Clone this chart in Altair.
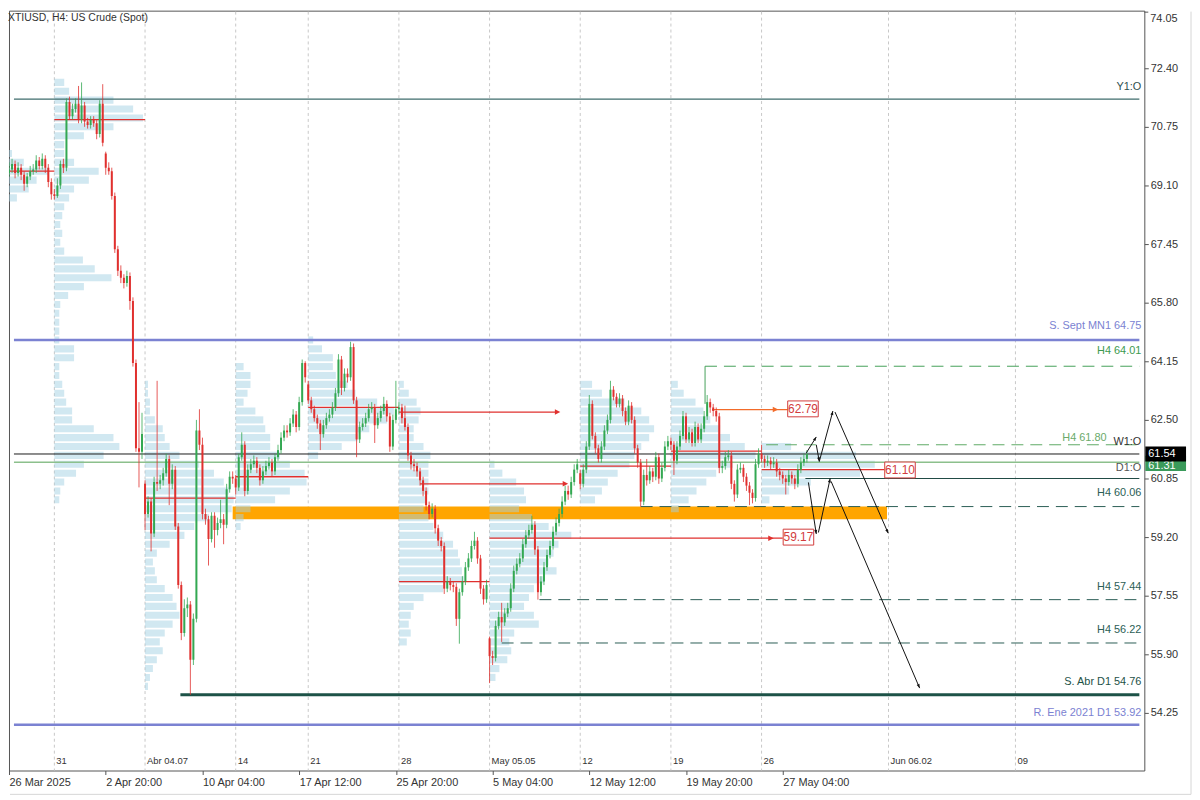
import math
import altair as alt
import pandas as pd

# ---------------------------------------------------------------- data
TITLE = "XTIUSD, H4:  US Crude (Spot)"

closes = [
    69.55, 69.70, 69.45, 69.60, 69.40, 69.15, 69.35, 69.50, 69.55, 69.80,
    69.65, 69.85, 69.60, 69.20, 68.85, 68.80, 69.10, 69.70, 69.60, 71.45,
    71.05, 71.25, 71.40, 70.95, 71.35, 70.90, 70.80, 70.95, 70.85, 70.55,
    71.40, 70.30, 69.60, 69.50, 68.80, 67.30, 66.70, 66.50, 66.35, 66.55,
    65.85, 64.10, 61.70, 61.60, 62.10, 59.85, 60.20, 59.30, 60.75, 60.70,
    60.80, 61.00, 61.40, 60.70, 61.10, 59.50, 57.85, 56.50, 57.20, 57.30,
    55.75, 56.90, 62.20, 61.80, 59.85, 59.70, 59.15, 59.80, 59.40, 59.60,
    59.70, 59.55, 60.55, 60.90, 60.85, 60.60, 61.45, 61.80, 60.50, 61.10,
    61.25, 61.35, 61.15, 60.80, 61.05, 61.20, 61.30, 61.05, 61.45, 61.65,
    62.00, 62.20, 62.15, 62.40, 62.65, 62.30, 63.00, 64.10, 63.70, 63.05,
    62.80, 62.55, 62.40, 62.10, 62.35, 62.55, 62.65, 62.85, 63.25, 64.20,
    63.40, 63.80, 63.70, 64.55, 63.05, 61.95, 62.30, 62.40, 62.55, 62.80,
    62.85, 62.35, 62.55, 62.75, 62.95, 62.60, 61.75, 62.50, 62.80, 62.85,
    62.55, 62.30, 61.50, 61.25, 61.20, 61.05, 60.80, 60.50, 60.10, 59.85,
    60.00, 59.45, 59.10, 58.95, 57.75, 57.95, 57.85, 57.80, 56.90, 57.65,
    57.95, 58.35, 58.60, 58.95, 59.10, 58.60, 57.75, 57.45, 57.85, 55.85,
    55.80, 56.70, 56.95, 56.80, 57.05, 57.20, 57.75, 58.25, 58.45, 58.60,
    59.00, 59.25, 59.40, 59.55, 58.85, 57.65, 57.95, 58.35, 58.70, 58.95,
    59.35, 59.60, 59.85, 60.20, 60.50, 60.40, 60.75, 61.10, 61.25, 60.70,
    61.10, 61.75, 62.95, 62.05, 61.70, 61.40, 61.75, 62.20, 62.50, 63.35,
    63.15, 62.95, 63.10, 62.75, 62.45, 62.90, 62.50, 61.70, 61.30, 60.20,
    60.95, 60.80, 61.05, 60.90, 61.45, 60.85, 61.15, 61.75, 61.90, 61.80,
    61.35, 61.75, 62.05, 62.60, 61.95, 62.15, 61.85, 62.30, 61.95, 62.25,
    62.60, 63.00, 62.85, 62.75, 62.60, 61.15, 61.20, 61.45, 61.50, 60.70,
    60.40, 61.10, 61.15, 60.90, 60.65, 60.45, 60.30, 61.25, 61.55, 61.40,
    61.30, 61.35, 61.25, 61.30, 61.05, 60.95, 60.85, 60.75, 60.95, 60.85,
    60.70, 61.10, 61.30, 61.40, 61.54,
]
highs = [
    69.75, 69.85, 69.80, 69.75, 69.70, 69.50, 69.45, 69.65, 69.70, 69.95,
    69.90, 70.00, 69.95, 69.70, 69.30, 69.00, 69.30, 69.80, 69.85, 71.55,
    71.60, 71.40, 71.55, 71.90, 72.00, 71.45, 71.00, 71.05, 71.05, 70.95,
    71.50, 71.95, 70.05, 69.75, 69.60, 68.90, 67.40, 66.85, 66.60, 66.70,
    66.65, 65.95, 64.20, 63.00, 62.70, 60.80, 60.35, 60.30, 60.90, 63.60,
    60.95, 61.15, 61.55, 61.50, 61.25, 61.20, 59.60, 57.95, 57.45, 57.50,
    57.40, 57.05, 62.50, 62.80, 62.00, 60.00, 59.80, 59.90, 59.90, 59.75,
    60.25, 59.85, 60.70, 61.05, 61.05, 60.95, 61.55, 62.15, 61.90, 61.25,
    61.40, 61.50, 61.45, 61.25, 61.20, 61.35, 61.45, 61.40, 61.55, 61.80,
    62.15, 62.35, 62.35, 62.55, 62.80, 62.75, 63.15, 64.20, 64.15, 63.60,
    63.15, 62.90, 62.65, 62.50, 62.50, 62.70, 62.80, 63.00, 63.40, 64.35,
    64.30, 63.95, 63.95, 64.70, 64.65, 63.15, 62.45, 62.55, 62.70, 62.95,
    63.00, 62.95, 62.70, 62.90, 63.15, 63.05, 62.70, 62.65, 63.60, 63.00,
    62.95, 62.90, 62.40, 61.60, 61.40, 61.30, 61.15, 60.90, 60.60, 60.20,
    60.15, 60.10, 59.55, 59.20, 59.05, 58.10, 58.05, 57.95, 57.90, 57.75,
    58.10, 58.50, 58.75, 59.10, 59.35, 59.20, 58.70, 57.85, 58.00, 56.40,
    56.00, 56.85, 57.10, 57.35, 57.20, 57.35, 57.90, 58.40, 58.60, 58.75,
    59.15, 59.40, 59.55, 59.80, 59.65, 58.95, 58.10, 58.50, 58.85, 59.10,
    59.50, 59.75, 60.00, 60.35, 60.65, 60.65, 60.90, 61.25, 61.40, 61.10,
    61.25, 61.90, 63.20, 63.05, 62.15, 61.80, 61.90, 62.35, 62.65, 63.60,
    63.45, 63.25, 63.25, 63.20, 62.85, 63.05, 63.00, 62.60, 61.80, 61.40,
    61.10, 61.40, 61.20, 61.15, 61.60, 61.55, 61.30, 61.90, 62.05, 62.00,
    61.90, 61.90, 62.20, 62.75, 62.70, 62.30, 62.25, 62.45, 62.40, 62.40,
    62.75, 63.20, 63.10, 62.95, 62.85, 62.70, 61.35, 61.60, 61.65, 61.60,
    60.80, 61.25, 61.30, 61.25, 61.00, 60.75, 60.55, 61.40, 61.70, 61.80,
    61.50, 61.50, 61.45, 61.45, 61.40, 61.15, 61.05, 60.95, 61.10, 61.05,
    60.95, 61.25, 61.45, 61.55, 61.65,
]
lows = [
    69.35, 69.45, 69.30, 69.35, 69.25, 68.95, 69.05, 69.25, 69.40, 69.45,
    69.55, 69.55, 69.45, 69.05, 68.70, 68.70, 68.75, 69.00, 69.45, 69.50,
    70.95, 70.95, 71.15, 70.85, 70.85, 70.75, 70.70, 70.70, 70.75, 70.40,
    70.45, 70.20, 69.40, 69.40, 68.70, 67.20, 66.55, 66.35, 66.20, 66.25,
    65.60, 64.00, 61.60, 60.60, 61.40, 59.40, 59.75, 58.80, 59.20, 60.50,
    60.55, 60.65, 60.90, 60.10, 60.55, 59.40, 57.75, 56.30, 56.40, 56.95,
    54.76, 55.60, 56.80, 61.65, 59.70, 59.55, 58.40, 59.05, 58.90, 59.25,
    59.45, 59.00, 59.45, 60.45, 60.70, 60.40, 60.50, 61.35, 60.35, 60.40,
    61.00, 61.15, 61.00, 60.65, 60.70, 60.95, 61.10, 60.90, 60.95, 61.35,
    61.55, 61.90, 62.00, 62.05, 62.30, 62.15, 62.20, 62.90, 63.55, 62.95,
    62.70, 62.45, 62.25, 61.65, 62.00, 62.25, 62.45, 62.55, 62.75, 63.15,
    63.20, 63.30, 63.55, 63.60, 62.95, 61.45, 61.85, 62.20, 62.30, 62.45,
    62.70, 61.85, 62.25, 62.45, 62.65, 62.45, 61.60, 61.65, 62.40, 62.65,
    62.40, 62.20, 61.35, 61.10, 61.05, 60.90, 60.65, 60.35, 59.95, 59.70,
    59.75, 59.30, 58.95, 58.80, 57.60, 57.65, 57.70, 57.65, 56.70, 56.20,
    57.55, 57.85, 58.25, 58.50, 58.85, 58.45, 57.60, 57.30, 57.35, 55.09,
    55.60, 55.70, 56.60, 56.25, 56.70, 56.95, 57.10, 57.65, 58.15, 58.35,
    58.50, 58.90, 59.15, 59.30, 58.70, 57.44, 57.55, 57.85, 58.25, 58.60,
    58.85, 59.25, 59.50, 59.75, 60.10, 60.25, 60.30, 60.65, 61.00, 60.55,
    60.60, 61.00, 61.65, 61.95, 61.55, 61.30, 61.30, 61.65, 62.10, 62.40,
    63.05, 62.85, 62.85, 62.60, 62.35, 62.35, 62.40, 61.55, 61.15, 60.06,
    60.10, 60.65, 60.70, 60.75, 60.80, 60.70, 60.75, 61.05, 61.65, 61.65,
    60.95, 61.25, 61.65, 61.95, 61.85, 61.85, 61.75, 61.75, 61.85, 61.85,
    62.15, 62.50, 62.70, 62.60, 62.45, 61.00, 61.00, 61.10, 61.35, 60.55,
    60.20, 60.30, 61.00, 60.75, 60.50, 60.10, 60.15, 60.20, 61.15, 61.30,
    61.15, 61.20, 61.10, 61.15, 60.90, 60.80, 60.70, 60.40, 60.65, 60.70,
    60.55, 60.60, 61.00, 61.20, 61.30,
]
# bars that open away from the previous close (weekend / news gaps)
gap_opens = {0: 69.45, 32: 70.00, 45: 60.70, 99: 63.50, 159: 56.35, 189: 61.00}

week_idx = [15, 45, 75, 99, 129, 159, 189, 219, 249, 291, 333]
week_labels = ["31", "Abr 04.07", "14", "21", "28", "May 05.05", "12", "19", "26",
               "Jun 06.02", "09"]

time_idx = [0, 32, 64, 96, 128, 160, 192, 224, 256]
time_labels = ["26 Mar 2025", "2 Apr 20:00", "10 Apr 04:00", "17 Apr 12:00",
               "25 Apr 20:00", "5 May 04:00", "12 May 12:00", "19 May 20:00",
               "27 May 04:00"]

price_ticks = [74.05, 72.40, 70.75, 69.10, 67.45, 65.80, 64.15, 62.50, 60.85,
               59.20, 57.55, 55.90, 54.25]

# weekly volume profiles: start bar, top price, volume per 0.25 level (descending)
PROFILE_STEP = 0.25
prof_start = [0, 15, 45, 75, 99, 129, 159, 189, 219, 249]
prof_top = [70.00, 72.00, 63.50, 64.00, 64.75, 63.50, 61.25, 63.50, 63.50, 61.75]
prof_vol = [
    [3, 15, 40, 28, 20, 8],
    [10, 15, 60, 80, 90, 60, 30, 10, 10, 20, 45, 35, 20, 15, 10, 8, 6, 8, 6, 10,
     29, 41, 58, 30, 14, 6, 5, 5, 5, 5, 20, 20, 5, 5, 8, 10, 12, 18, 18, 40,
     60, 66, 50, 30, 22, 10, 6, 5],
    [3, 3, 5, 5, 10, 18, 20, 25, 35, 55, 70, 80, 85, 90, 88, 65, 50, 40, 25, 12,
     8, 10, 12, 20, 28, 32, 35, 28, 20, 15, 18, 12, 8, 5, 3],
    [8, 15, 15, 12, 8, 20, 28, 30, 35, 35, 45, 55, 70, 72, 55, 40, 15, 8, 5],
    [5, 14, 25, 25, 28, 40, 48, 70, 87, 80, 62, 50, 34, 10],
    [5, 10, 18, 22, 20, 15, 15, 25, 32, 30, 30, 30, 30, 28, 25, 30, 35, 45, 55, 60,
     62, 64, 66, 45, 25, 15, 12, 10, 12, 8],
    [5, 13, 27, 35, 37, 30, 43, 60, 83, 70, 65, 60, 68, 55, 45, 40, 35, 45, 50, 25,
     20, 22, 18, 10, 6],
    [12, 22, 45, 62, 70, 75, 70, 62, 55, 50, 38, 28, 22, 15],
    [7, 13, 25, 33, 40, 50, 60, 75, 86, 63, 46, 36, 26, 18, 8],
    [30, 96, 115, 100, 50, 28, 8],
]

# horizontal levels
solid_price = [71.53, 64.75, 61.54, 61.31, 60.85, 54.76, 53.92]
solid_from = [None, None, None, None, 263.5, 56.7, None]
dashed_price = [64.01, 61.80, 60.06, 57.44, 56.22]
dashed_from = [230.3, 250.5, 209.0, 175.5, 163.0]

level_text = ["Y1:O", "S. Sept MN1 64.75", "H4 64.01", "H4 61.80", "W1:O", "D1:O",
              "H4 60.06", "H4 57.44", "H4 56.22", "S. Abr D1 54.76",
              "R. Ene 2021 D1 53.92"]
level_text_price = [71.53, 64.75, 64.01, 61.80, 61.54, 61.31, 60.06, 57.44, 56.22,
                    54.76, 53.92]

# orange zone
zone_from, zone_to, zone_top, zone_bot = 74.0, 290.5, 60.06, 59.70
# connector of the H4 64.01 level
conn_i, conn_top, conn_bot = 230.3, 64.01, 62.95

# point-of-control lines and their extensions
seg_from = [0, 15, 45, 75, 99, 129, 136, 129, 159, 189, 219, 249, 232.6]
seg_to = [15, 45, 75, 99, 129, 181.5, 184.0, 159, 256.0, 219, 249, 289.6, 257.7]
seg_price = [69.50, 70.95, 60.30, 60.90, 62.85, 62.72, 60.70, 57.95, 59.17, 61.20,
             61.62, 61.10, 62.79]
seg_orange = [False] * 12 + [True]
head_i = [182.4, 185.0, 253.0, 254.5]
head_p = [62.72, 60.70, 59.17, 62.79]
head_orange = [False, False, False, True]

box_text = ["62.79", "61.10", "59.17"]
box_i = [262.7, 294.8, 261.2]
box_p = [62.81, 61.09, 59.20]

# projected path (arrows)
zz_x0 = [263.8, 267.1, 268.1, 273.3, 264.5, 267.8, 272.0]
zz_y0 = [61.57, 61.80, 61.33, 62.72, 60.74, 59.33, 60.77]
zz_x1 = [267.1, 268.1, 272.6, 290.9, 267.1, 271.7, 301.3]
zz_y1 = [62.02, 61.33, 62.75, 59.31, 59.29, 60.85, 54.95]

tag_text = ["61.31", "61.54"]
tag_price = [61.31, 61.54]

# ---------------------------------------------------------------- styles
FONT = "Liberation Sans, Arial, sans-serif"
W, H = 1143, 765
X_MIN, X_MAX = 1.63, 374.0
Y_MIN, Y_MAX = 52.63, 74.02
PX_X = W / (X_MAX - X_MIN)
PX_Y = H / (Y_MAX - Y_MIN)
GREEN, RED, ORANGE_LINE = "#33a852", "#e0302e", "#f26b2a"
PROF_HALF = 0.1
BOX_HW, BOX_HH = 15.5 / PX_X, 8 / PX_Y
TAG_UP = [6.5 / PX_Y, 7.5 / PX_Y]
TAG_DN = [9.0 / PX_Y, 7.5 / PX_Y]
TAG_DY = [4, 0]

solid_color = ["#3f6d6d", "#7b82d2", "#1a1a1a", "#8cc08c", "#1f4a44", "#1d5247", "#7b82d2"]
solid_width = [1.3, 2.5, 1.0, 1.5, 1.0, 3.0, 2.5]
dashed_color = ["#46a05a", "#5faa65", "#2b5e56", "#2b5e56", "#2b5e56"]
level_text_color = ["#2f4f4f", "#7b82d2", "#3d9a4f", "#6aaa6a", "#333333", "#555555",
                    "#2b5e56", "#2b5e56", "#2b5e56", "#1d5247", "#7b82d2"]
level_text_dy = [-12, -14, -15, -7, -12, 6, -14, -13, -13, -13, -12]
level_text_x = [W - 3, W - 3, W - 3, W - 38, W - 3, W - 3, W - 3, W - 3, W - 3, W - 3, W - 3]
tag_color = ["#3a9a5a", "#000000"]

ARROW_RED = "M0,0L1,2L-1,2Z"
ARROW_BLK = "M0,0L0.75,2L-0.75,2Z"

# ---------------------------------------------------------------- frames
opens = [gap_opens.get(k, closes[k - 1] if k else closes[0]) for k in range(len(closes))]
bars = pd.DataFrame({"i": range(len(closes)), "o": opens, "h": highs, "l": lows, "c": closes})

rows = []
for s, top, vols in zip(prof_start, prof_top, prof_vol):
    for j, v in enumerate(vols):
        p = top - PROFILE_STEP * j
        rows.append({"x0": s, "x1": s + v / PX_X, "ytop": p + PROF_HALF, "ybot": p - PROF_HALF})
prof_df = pd.DataFrame(rows)

weeks_df = pd.DataFrame({"i": week_idx, "lab": week_labels})
solid_df = pd.DataFrame({
    "x0": [X_MIN if f is None else f for f in solid_from], "x1": X_MAX,
    "p": solid_price, "col": solid_color, "w": solid_width})
dashed_df = pd.DataFrame({"x0": dashed_from, "x1": X_MAX, "p": dashed_price, "col": dashed_color})
seg_df = pd.DataFrame({"x0": seg_from, "x1": seg_to, "p": seg_price,
                       "col": [ORANGE_LINE if o else RED for o in seg_orange]})
head_df = pd.DataFrame({"i": head_i, "p": head_p, "ang": 90,
                        "col": [ORANGE_LINE if o else RED for o in head_orange]})
box_df = pd.DataFrame({"t": box_text, "i": box_i, "p": box_p,
                       "x0": [b - BOX_HW for b in box_i], "x1": [b + BOX_HW for b in box_i],
                       "y0": [b + BOX_HH for b in box_p], "y1": [b - BOX_HH for b in box_p]})
angles = []
for a, b, c, d in zip(zz_x0, zz_y0, zz_x1, zz_y1):
    ang = math.degrees(math.atan2((c - a) * PX_X, (d - b) * PX_Y)) % 360
    angles.append(ang)
zz_df = pd.DataFrame({"x0": zz_x0, "y0": zz_y0, "x1": zz_x1, "y1": zz_y1, "ang": angles})

axis_ticks = [v for v in price_ticks if Y_MIN <= v <= Y_MAX]
edge_ticks = pd.DataFrame({"p": [v for v in price_ticks if v > Y_MAX]})

# ---------------------------------------------------------------- encodings
xs = alt.Scale(domain=[X_MIN, X_MAX], nice=False, zero=False)
ys = alt.Scale(domain=[Y_MIN, Y_MAX], nice=False, zero=False)

x_expr = ("[" + ",".join("'%s'" % s for s in time_labels) + "][indexof(["
          + ",".join(str(v) for v in time_idx) + "], datum.value)]")
xaxis = alt.Axis(values=time_idx, labelExpr=x_expr, orient="bottom", title=None,
                 grid=False, domain=False, ticks=True, tickSize=4, tickColor="#555",
                 labelAlign="left", labelPadding=2, labelFontSize=11, labelColor="#333",
                 labelFont=FONT, labelFlush=False, labelOverlap=False)
yaxis = alt.Axis(values=axis_ticks, orient="right", format=".2f", title=None,
                 grid=False, domain=False, tickSize=4, tickColor="#555",
                 labelPadding=2, labelFontSize=11, labelColor="#333", labelFont=FONT,
                 labelOverlap=False, labelFlush=False)


def X(f):
    return alt.X(f, type="quantitative", scale=xs, axis=xaxis)


def Y(f):
    return alt.Y(f, type="quantitative", scale=ys, axis=yaxis)


updown = alt.condition("datum.c >= datum.o", alt.value(GREEN), alt.value(RED))

layers = []
layers.append(alt.Chart(weeks_df).mark_rule(color="#c8c8c8", strokeDash=[3, 3], strokeWidth=1)
              .encode(x=X("i"), y=alt.value(1), y2=alt.value(H)))
layers.append(alt.Chart(pd.DataFrame({"x0": [zone_from], "x1": [zone_to], "a": [zone_top],
                                      "b": [zone_bot]}))
              .mark_rect(color="#ffa500").encode(x=X("x0"), x2="x1", y=Y("a"), y2="b"))
layers.append(alt.Chart(prof_df).mark_rect(color="#a3d2e3", opacity=0.5, clip=True)
              .encode(x=X("x0"), x2="x1", y=Y("ytop"), y2="ybot"))
layers.append(alt.Chart(solid_df).mark_rule()
              .encode(x=X("x0"), x2="x1", y=Y("p"),
                      color=alt.Color("col:N", scale=None),
                      strokeWidth=alt.StrokeWidth("w:Q", scale=None)))
layers.append(alt.Chart(dashed_df).mark_rule(strokeDash=[12, 7], strokeWidth=1)
              .encode(x=X("x0"), x2="x1", y=Y("p"), color=alt.Color("col:N", scale=None)))
layers.append(alt.Chart(pd.DataFrame({"i": [conn_i], "a": [conn_top], "b": [conn_bot]}))
              .mark_rule(color="#46a05a", strokeWidth=1)
              .encode(x=X("i"), y=Y("a"), y2="b"))
layers.append(alt.Chart(seg_df).mark_rule(strokeWidth=1.3, clip=True)
              .encode(x=X("x0"), x2="x1", y=Y("p"), color=alt.Color("col:N", scale=None)))
layers.append(alt.Chart(bars).mark_rule(strokeWidth=1, opacity=0.8, clip=True)
              .encode(x=X("i"), y=Y("l"), y2="h", color=updown))
layers.append(alt.Chart(bars).mark_bar(size=2, clip=True)
              .encode(x=X("i"), y=Y("o"), y2="c", color=updown))
layers.append(alt.Chart(head_df).mark_point(shape=ARROW_RED, filled=True, size=30, opacity=1)
              .encode(x=X("i"), y=Y("p"), angle=alt.Angle("ang:Q", scale=None),
                      color=alt.Color("col:N", scale=None)))
layers.append(alt.Chart(box_df).mark_rect(fill="white", stroke="#d23c3c", strokeWidth=1)
              .encode(x=X("x0"), x2="x1", y=Y("y0"), y2="y1"))
layers.append(alt.Chart(box_df).mark_text(color="#d23c3c", font=FONT, fontSize=12,
                                          baseline="middle")
              .encode(x=X("i"), y=Y("p"), text="t:N"))
layers.append(alt.Chart(zz_df).mark_rule(color="#111111", strokeWidth=1)
              .encode(x=X("x0"), x2="x1", y=Y("y0"), y2="y1"))
layers.append(alt.Chart(zz_df).mark_point(shape=ARROW_BLK, filled=True, size=16,
                                          color="#111111", opacity=1)
              .encode(x=X("x1"), y=Y("y1"), angle=alt.Angle("ang:Q", scale=None)))
for t, p, col, dy, xp in zip(level_text, level_text_price, level_text_color,
                             level_text_dy, level_text_x):
    layers.append(alt.Chart(pd.DataFrame({"t": [t], "p": [p]}))
                  .mark_text(align="right", baseline="middle", dy=dy, font=FONT,
                             fontSize=11, color=col)
                  .encode(x=alt.value(xp), y=Y("p"), text="t:N"))
layers.append(alt.Chart(weeks_df).mark_text(align="left", baseline="middle", dx=2,
                                            font=FONT, fontSize=9.5, color="#333")
              .encode(x=X("i"), y=alt.value(H - 10), text="lab:N"))
# price-axis label that sits on the very top edge of the frame (kept inside the canvas)
if len(edge_ticks):
    layers.append(alt.Chart(edge_ticks).mark_rule(color="#555", strokeWidth=1)
                  .encode(x=alt.value(W), x2=alt.value(W + 4), y=alt.value(1.5)))
    layers.append(alt.Chart(edge_ticks).mark_text(align="left", baseline="alphabetic",
                                                  font=FONT, fontSize=11, color="#333")
                  .encode(x=alt.value(W + 6), y=alt.value(11),
                          text=alt.Text("p:Q", format=".2f")))
for t, p, col, up, dn, dy in zip(tag_text, tag_price, tag_color, TAG_UP, TAG_DN, TAG_DY):
    tdf = pd.DataFrame({"t": [t], "p": [p], "top": [p + up], "bot": [p - dn]})
    layers.append(alt.Chart(tdf).mark_rect(color=col)
                  .encode(x=alt.value(W + 1), x2=alt.value(W + 42), y=Y("top"), y2="bot"))
    layers.append(alt.Chart(tdf).mark_text(align="left", baseline="middle", dy=dy,
                                           font=FONT, fontSize=11, color="white")
                  .encode(x=alt.value(W + 4), y=Y("p"), text="t:N"))
layers.append(alt.Chart(pd.DataFrame({"t": [TITLE]}))
              .mark_text(align="left", baseline="alphabetic", font=FONT, fontSize=10.5,
                         color="#333")
              .encode(x=alt.value(-1), y=alt.value(10), text="t:N"))
# light outer border of the picture (right and bottom edges)
layers.append(alt.Chart(pd.DataFrame({"k": [0]})).mark_rule(color="#d6d6d6", strokeWidth=1)
              .encode(x=alt.value(W + 47), y=alt.value(1), y2=alt.value(H + 24)))
layers.append(alt.Chart(pd.DataFrame({"k": [0]})).mark_rule(color="#d6d6d6", strokeWidth=1)
              .encode(x=alt.value(1), x2=alt.value(W + 47), y=alt.value(H + 24)))

chart = (alt.layer(*layers)
         .properties(width=W, height=H, background="white", padding=0)
         .configure_view(stroke="#555555", strokeWidth=1))

chart.save("out.html", embed_options={"renderer": "svg", "actions": False})
